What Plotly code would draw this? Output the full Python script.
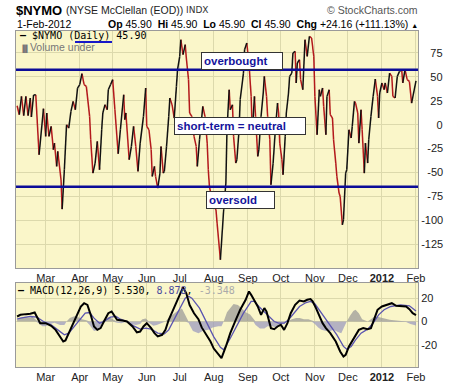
import plotly.graph_objects as go

# ---------------- data ----------------
nymo_dates = [
    "2011-02-03", "2011-02-05", "2011-02-07", "2011-02-09", "2011-02-11", "2011-02-13", "2011-02-15",
    "2011-02-16", "2011-02-18", "2011-02-20", "2011-02-23", "2011-02-27", "2011-03-01", "2011-03-02",
    "2011-03-04", "2011-03-06", "2011-03-08", "2011-03-09", "2011-03-11", "2011-03-12", "2011-03-15",
    "2011-03-16", "2011-03-18", "2011-03-20", "2011-03-22", "2011-03-24", "2011-03-26", "2011-03-28",
    "2011-03-30", "2011-04-01", "2011-04-03", "2011-04-05", "2011-04-07", "2011-04-10", "2011-04-11",
    "2011-04-13", "2011-04-15", "2011-04-17", "2011-04-19", "2011-04-21", "2011-04-22", "2011-04-24",
    "2011-04-26", "2011-04-27", "2011-04-29", "2011-05-01", "2011-05-03", "2011-05-06", "2011-05-08",
    "2011-05-11", "2011-05-12", "2011-05-13", "2011-05-16", "2011-05-18", "2011-05-20", "2011-05-22",
    "2011-05-24", "2011-05-26", "2011-05-29", "2011-05-31", "2011-06-01", "2011-06-03", "2011-06-05",
    "2011-06-06", "2011-06-08", "2011-06-09", "2011-06-11", "2011-06-13", "2011-06-14", "2011-06-16",
    "2011-06-17", "2011-06-19", "2011-06-21", "2011-06-22", "2011-06-24", "2011-06-26", "2011-06-28",
    "2011-06-29", "2011-07-01", "2011-07-02", "2011-07-04", "2011-07-06", "2011-07-07", "2011-07-09",
    "2011-07-10", "2011-07-12", "2011-07-14", "2011-07-16", "2011-07-17", "2011-07-19", "2011-07-22",
    "2011-07-24", "2011-07-26", "2011-07-27", "2011-07-28", "2011-07-31", "2011-08-03", "2011-08-04",
    "2011-08-07", "2011-08-10", "2011-08-12", "2011-08-13", "2011-08-15", "2011-08-16", "2011-08-18",
    "2011-08-19", "2011-08-21", "2011-08-22", "2011-08-24", "2011-08-25", "2011-08-28", "2011-08-29",
    "2011-08-31", "2011-09-02", "2011-09-04", "2011-09-05", "2011-09-07", "2011-09-08", "2011-09-10",
    "2011-09-11", "2011-09-13", "2011-09-15", "2011-09-16", "2011-09-18", "2011-09-19", "2011-09-21",
    "2011-09-22", "2011-09-24", "2011-09-26", "2011-09-28", "2011-09-29", "2011-09-30", "2011-10-02",
    "2011-10-03", "2011-10-05", "2011-10-06", "2011-10-08", "2011-10-09", "2011-10-11", "2011-10-12",
    "2011-10-14", "2011-10-15", "2011-10-16", "2011-10-18", "2011-10-19", "2011-10-21", "2011-10-23",
    "2011-10-25", "2011-10-27", "2011-10-29", "2011-10-31", "2011-11-01", "2011-11-03", "2011-11-05",
    "2011-11-06", "2011-11-08", "2011-11-09", "2011-11-11", "2011-11-12", "2011-11-14", "2011-11-15",
    "2011-11-17", "2011-11-18", "2011-11-20", "2011-11-21", "2011-11-23", "2011-11-24", "2011-11-26",
    "2011-11-27", "2011-11-29", "2011-11-30", "2011-12-02", "2011-12-04", "2011-12-05", "2011-12-07",
    "2011-12-08", "2011-12-10", "2011-12-11", "2011-12-13", "2011-12-14", "2011-12-16", "2011-12-17",
    "2011-12-19", "2011-12-20", "2011-12-22", "2011-12-24", "2011-12-26", "2011-12-28", "2011-12-29",
    "2011-12-30", "2012-01-01", "2012-01-03", "2012-01-04", "2012-01-06", "2012-01-08", "2012-01-10",
    "2012-01-11", "2012-01-13", "2012-01-15", "2012-01-17", "2012-01-19", "2012-01-20", "2012-01-22",
    "2012-01-24", "2012-01-26", "2012-01-28", "2012-02-01",
]
nymo_values = [
    19.8, 10.4, 29.6, 9.4, 29.6, 9.4, 27.9,
    8.0, 31.0, 31.3, -31.5, 16.7, -12.3, 12.2,
    -12.3, -1.8, -26.2, -19.3, -43.7, -28.0, -57.7,
    -88.4, -47.2, -0.1, -3.6, 13.9, 24.4, 15.6,
    38.3, 41.8, 53.3, 41.8, 40.1, 8.7, -15.8,
    -50.7, -40.2, -17.5, -47.2, -5.3, 12.2, 20.9,
    15.6, 36.6, 41.8, 47.1, 15.6, -30.4, -5.3,
    31.3, 5.2, 12.2, -36.7, -22.8, -1.8, -22.8,
    -48.9, -19.3, 8.7, 38.3, -1.8, -5.3, -26.2,
    -54.2, -43.7, -54.2, -66.4, -50.7, -22.8, -50.7,
    -48.9, -22.8, 8.7, 27.9, 20.9, 6.9, 40.1,
    57.5, 71.5, 88.9, 73.2, 83.7, 69.7, 47.1,
    12.2, 8.7, -12.3, -22.8, -43.7, -15.8, 19.1,
    8.7, -19.3, -47.2, -64.6, -82.1, -89.1, -103.0,
    -141.4, -89.1, -61.1, -5.3, 36.6, 15.6, 20.9,
    -12.3, -40.2, -36.7, -5.3, 26.1, 54.0, 78.5,
    85.4, 64.5, 29.6, -8.8, 29.6, 8.7, -33.2,
    -26.2, 8.7, 33.1, 50.5, 29.6, 8.7, -15.8,
    -62.9, -40.2, -5.3, 22.6, 12.2, -19.3, -36.7,
    -52.4, -12.3, 12.2, 33.1, 50.5, 54.0, 75.0,
    76.7, 43.6, 64.5, 68.0, 47.1, 36.6, 88.9,
    71.5, 92.4, 90.7, 71.5, 29.6, -10.5, 36.6,
    29.6, 38.3, 19.1, -10.5, 29.6, 36.6, 10.4,
    6.9, -15.8, -40.2, -54.2, -71.6, -75.1, -104.8,
    -99.5, -50.7, -47.2, -5.3, -14.0, -1.8, 24.4,
    22.6, 12.2, -19.3, 15.6, -5.3, -50.7, -19.3,
    -40.2, -15.8, 8.7, 29.6, 47.8, 29.6, 6.9,
    33.1, 43.6, 36.6, 43.6, 33.1, 54.0, 50.5,
    29.6, 27.9, 50.5, 55.8, 57.5, 43.6, 57.5,
    47.1, 45.3, 22.6, 45.9,
]

macd_dates = [
    "2011-02-03", "2011-02-06", "2011-02-11", "2011-02-15", "2011-02-19", "2011-02-21", "2011-02-24",
    "2011-03-01", "2011-03-06", "2011-03-10", "2011-03-14", "2011-03-17", "2011-03-19", "2011-03-22",
    "2011-03-26", "2011-03-30", "2011-04-02", "2011-04-05", "2011-04-08", "2011-04-11", "2011-04-14",
    "2011-04-17", "2011-04-20", "2011-04-23", "2011-04-27", "2011-04-30", "2011-05-02", "2011-05-05",
    "2011-05-10", "2011-05-14", "2011-05-19", "2011-05-23", "2011-05-26", "2011-05-29", "2011-06-01",
    "2011-06-05", "2011-06-08", "2011-06-11", "2011-06-15", "2011-06-18", "2011-06-21", "2011-06-25",
    "2011-06-29", "2011-07-02", "2011-07-04", "2011-07-07", "2011-07-10", "2011-07-14", "2011-07-18",
    "2011-07-21", "2011-07-25", "2011-07-29", "2011-08-01", "2011-08-05", "2011-08-08", "2011-08-12",
    "2011-08-16", "2011-08-21", "2011-08-25", "2011-08-30", "2011-09-02", "2011-09-04", "2011-09-07",
    "2011-09-10", "2011-09-13", "2011-09-16", "2011-09-18", "2011-09-20", "2011-09-22", "2011-09-25",
    "2011-09-28", "2011-10-01", "2011-10-04", "2011-10-07", "2011-10-10", "2011-10-14", "2011-10-18",
    "2011-10-22", "2011-10-25", "2011-10-28", "2011-10-30", "2011-11-02", "2011-11-05", "2011-11-08",
    "2011-11-11", "2011-11-15", "2011-11-20", "2011-11-24", "2011-11-27", "2011-11-29", "2011-12-02",
    "2011-12-07", "2011-12-11", "2011-12-15", "2011-12-19", "2011-12-22", "2011-12-25", "2011-12-28",
    "2012-01-01", "2012-01-06", "2012-01-10", "2012-01-14", "2012-01-18", "2012-01-23", "2012-01-26",
    "2012-01-29", "2012-02-01",
]
macd_values = [
    4.3, 5.7, 6.3, 6.6, 7.7, 4.3, -1.4,
    -1.4, -3.7, -7.1, -13.3, -17.0, -16.1, -9.9,
    -1.4, 7.1, 12.8, 15.6, 14.2, 5.7, -4.2,
    -7.1, -5.6, 0.0, 7.1, 8.5, 5.7, 1.5,
    0.9, 0.0, -4.2, -9.3, -8.5, -4.2, -1.4,
    -5.6, -9.9, -12.7, -11.3, -7.1, 1.5, 10.0,
    18.5, 26.0, 29.0, 24.0, 14.0, 7.0, 2.0,
    -5.0, -11.0, -17.0, -23.0, -28.0, -31.2, -21.2,
    -9.9, 1.5, 10.0, 18.5, 25.6, 22.7, 17.1,
    12.8, 5.7, 11.4, 8.5, 1.5, -5.6, -6.5,
    -4.2, -2.8, -7.1, -1.4, 7.1, 14.2, 17.9,
    17.1, 18.5, 19.1, 17.1, 11.4, 4.3, -1.4,
    -5.6, -9.9, -17.0, -25.5, -29.8, -28.3, -21.2,
    -12.7, -7.1, -5.6, -6.5, -5.6, 2.9, 10.0,
    12.8, 14.2, 15.6, 13.4, 13.4, 12.8, 10.5,
    7.1, 5.53,
]

signal_dates = [
    "2011-02-03", "2011-02-06", "2011-02-15", "2011-02-21", "2011-02-27", "2011-03-06", "2011-03-12",
    "2011-03-18", "2011-03-22", "2011-03-27", "2011-04-02", "2011-04-06", "2011-04-10", "2011-04-14",
    "2011-04-19", "2011-04-23", "2011-04-29", "2011-05-04", "2011-05-08", "2011-05-14", "2011-05-20",
    "2011-05-26", "2011-05-31", "2011-06-05", "2011-06-11", "2011-06-17", "2011-06-21", "2011-06-26",
    "2011-07-02", "2011-07-06", "2011-07-09", "2011-07-12", "2011-07-19", "2011-07-25", "2011-08-01",
    "2011-08-07", "2011-08-10", "2011-08-16", "2011-08-22", "2011-08-28", "2011-09-04", "2011-09-07",
    "2011-09-11", "2011-09-16", "2011-09-20", "2011-09-25", "2011-09-29", "2011-10-04", "2011-10-08",
    "2011-10-13", "2011-10-18", "2011-10-24", "2011-10-28", "2011-11-01", "2011-11-05", "2011-11-09",
    "2011-11-15", "2011-11-21", "2011-11-27", "2011-11-30", "2011-12-04", "2011-12-08", "2011-12-13",
    "2011-12-19", "2011-12-24", "2011-12-29", "2012-01-03", "2012-01-09", "2012-01-18", "2012-01-26",
    "2012-02-01",
]
signal_values = [
    2.0, 2.9, 4.3, 3.7, 0.0, -2.8, -7.1,
    -11.3, -9.9, -4.2, 2.9, 7.1, 7.7, 2.9,
    -1.4, 0.0, 3.7, 4.3, 2.0, 0.0, -3.7,
    -6.5, -5.6, -6.5, -9.9, -10.5, -7.1, 1.5,
    12.8, 19.9, 21.5, 19.9, 11.4, 0.0, -13.0,
    -22.0, -24.0, -14.2, -4.2, 7.1, 17.1, 17.1,
    12.8, 8.5, 4.3, 0.0, -1.4, -1.4, 1.5,
    7.1, 12.8, 16.2, 17.1, 15.1, 10.0, 4.3,
    -2.8, -11.3, -21.2, -23.5, -21.2, -15.6, -9.9,
    -6.5, -1.4, 5.7, 10.0, 12.8, 14.2, 13.4,
    8.878,
]

hist_dates = [
    "2011-02-03", "2011-02-06", "2011-02-10", "2011-02-15", "2011-02-17", "2011-02-20", "2011-02-22",
    "2011-02-26", "2011-03-01", "2011-03-05", "2011-03-09", "2011-03-14", "2011-03-18", "2011-03-20",
    "2011-03-23", "2011-03-27", "2011-03-30", "2011-04-03", "2011-04-07", "2011-04-10", "2011-04-14",
    "2011-04-18", "2011-04-21", "2011-04-25", "2011-04-28", "2011-05-01", "2011-05-05", "2011-05-09",
    "2011-05-14", "2011-05-18", "2011-05-22", "2011-05-26", "2011-05-28", "2011-05-31", "2011-06-03",
    "2011-06-07", "2011-06-10", "2011-06-14", "2011-06-18", "2011-06-22", "2011-06-26", "2011-06-29",
    "2011-07-03", "2011-07-06", "2011-07-09", "2011-07-13", "2011-07-18", "2011-07-22", "2011-07-27",
    "2011-07-31", "2011-08-05", "2011-08-08", "2011-08-10", "2011-08-13", "2011-08-17", "2011-08-19",
    "2011-08-23", "2011-08-27", "2011-08-30", "2011-09-03", "2011-09-06", "2011-09-08", "2011-09-12",
    "2011-09-16", "2011-09-19", "2011-09-23", "2011-09-27", "2011-09-30", "2011-10-04", "2011-10-07",
    "2011-10-11", "2011-10-15", "2011-10-18", "2011-10-22", "2011-10-26", "2011-10-29", "2011-11-01",
    "2011-11-04", "2011-11-07", "2011-11-11", "2011-11-15", "2011-11-18", "2011-11-22", "2011-11-25",
    "2011-11-27", "2011-11-30", "2011-12-03", "2011-12-06", "2011-12-08", "2011-12-11", "2011-12-14",
    "2011-12-17", "2011-12-19", "2011-12-22", "2011-12-25", "2011-12-28", "2012-01-01", "2012-01-05",
    "2012-01-08", "2012-01-12", "2012-01-16", "2012-01-19", "2012-01-23", "2012-01-27", "2012-02-01",
]
hist_values = [
    1.0, 3.0, 4.0, 3.5, 4.0, 2.0, -1.0,
    -4.0, -4.0, -2.0, -1.0, -3.0, -3.0, 0.0,
    3.0, 4.5, 4.0, 2.0, 1.0, -3.0, -8.0,
    -7.0, -2.0, 3.0, 4.0, 2.0, -1.0, -1.5,
    0.0, -2.0, -3.0, -2.0, 2.0, 2.5, -1.0,
    -3.5, -3.0, -1.5, 0.0, 4.0, 7.0, 9.0,
    11.0, 6.0, -1.0, -8.0, -10.0, -8.0, -7.0,
    -5.0, -4.0, -4.0, 0.0, 8.0, 13.0, 15.0,
    14.0, 11.0, 8.0, 6.0, 2.0, -3.0, -6.0,
    -6.0, -4.0, -4.0, -5.0, -3.0, -2.0, 0.0,
    2.0, 3.0, 3.0, 2.0, 2.0, 1.0, -2.0,
    -5.0, -7.0, -8.0, -8.0, -7.0, -9.0, -10.0,
    -6.0, 0.0, 5.0, 9.0, 10.0, 7.0, 2.0,
    1.0, 0.0, 2.0, 4.0, 4.0, 3.0, 2.0,
    1.5, 1.0, 0.5, 0.5, -0.5, -2.0, -3.348,
]

OVERBOUGHT = 57.5
OVERSOLD = -65.0

month_tick_dates = ["2011-03-01", "2011-04-01", "2011-05-01", "2011-06-01", "2011-07-01", "2011-08-01",
                    "2011-09-01", "2011-10-01", "2011-11-01", "2011-12-01", "2012-01-01", "2012-02-01"]
month_tick_labels = ["Mar", "Apr", "May", "Jun", "Jul", "Aug", "Sep", "Oct", "Nov", "Dec",
                     "<b>2012</b>", "Feb"]
nymo_ticks = [75, 50, 25, 0, -25, -50, -75, -100, -125]
macd_ticks = [20, 0, -20]

# ---------------- styling ----------------
W, H = 460, 383
ML, MR, MT, MB = 16, 42, 31, 16
BG = "#faf6c9"
GRID = "#dcd9ac"
FRAME = "#9a9a9a"
NAVY = "#0c0c98"
ANN_BLUE = "#14149c"
X_RANGE = ["2011-02-02", "2012-02-02 20:00"]


def pad_right(labels):
    # right-align tick labels using figure / punctuation spaces
    def w(s):
        return sum(0.6 if c == "-" else 1.0 for c in s)
    mx = max(w(s) for s in labels)
    out = []
    for s in labels:
        d = mx - w(s)
        n = int(d)
        rest = d - n
        out.append("\u2008" * (1 if rest > 0.3 else 0) + "\u2007" * n + s)
    return out


fig = go.Figure()

# histogram (positive and negative parts)
hist_pos = [max(v, 0) for v in hist_values]
hist_neg = [min(v, 0) for v in hist_values]
fig.add_trace(go.Scatter(x=hist_dates, y=hist_pos, mode="lines", line=dict(width=0, color="#9d9d9d"),
                         fill="tozeroy", fillcolor="rgba(150,150,150,0.7)", xaxis="x2", yaxis="y2",
                         hoverinfo="skip", showlegend=False))
fig.add_trace(go.Scatter(x=hist_dates, y=hist_neg, mode="lines", line=dict(width=0, color="#a0a0c4"),
                         fill="tozeroy", fillcolor="rgba(150,150,190,0.7)", xaxis="x2", yaxis="y2",
                         hoverinfo="skip", showlegend=False))
fig.add_trace(go.Scatter(x=signal_dates, y=signal_values, mode="lines",
                         line=dict(color="#5a54b0", width=1.3), xaxis="x2", yaxis="y2",
                         name="Signal", showlegend=False))
fig.add_trace(go.Scatter(x=macd_dates, y=macd_values, mode="lines",
                         line=dict(color="#000000", width=2), xaxis="x2", yaxis="y2",
                         name="MACD", showlegend=False))

# NYMO: black for rising segments, dark red for falling segments
up_x, up_y, dn_x, dn_y = [], [], [], []
for i in range(1, len(nymo_values)):
    if nymo_values[i] >= nymo_values[i - 1]:
        up_x += [nymo_dates[i - 1], nymo_dates[i], None]
        up_y += [nymo_values[i - 1], nymo_values[i], None]
    else:
        dn_x += [nymo_dates[i - 1], nymo_dates[i], None]
        dn_y += [nymo_values[i - 1], nymo_values[i], None]
fig.add_trace(go.Scatter(x=dn_x, y=dn_y, mode="lines", line=dict(color="#b3191c", width=1.5),
                         xaxis="x", yaxis="y", showlegend=False, connectgaps=False))
fig.add_trace(go.Scatter(x=up_x, y=up_y, mode="lines", line=dict(color="#111111", width=1.5),
                         xaxis="x", yaxis="y", showlegend=False, connectgaps=False))

# overbought / oversold levels
for lvl in (OVERBOUGHT, OVERSOLD):
    fig.add_shape(type="line", xref="x domain", yref="y", x0=0, x1=1, y0=lvl, y1=lvl,
                  line=dict(color=NAVY, width=2.5), layer="above")

plot_h = H - MT - MB
main_bottom = (H - MB - 268) / plot_h
macd_top = (H - MB - 283) / plot_h

axis_common = dict(showline=True, mirror=True, linecolor=FRAME, linewidth=1, gridcolor=GRID,
                   gridwidth=1, zeroline=False, ticks="", automargin=False,
                   tickfont=dict(family="Arial", size=11, color="#222"))

fig.update_layout(
    width=W, height=H, margin=dict(l=ML, r=MR, t=MT, b=MB, pad=0, autoexpand=False),
    paper_bgcolor="white", plot_bgcolor=BG, showlegend=False,
    font=dict(family="Arial"),
    xaxis=dict(domain=[0, 1], anchor="y", type="date", range=X_RANGE, tickvals=month_tick_dates,
               ticktext=month_tick_labels, **axis_common),
    yaxis=dict(domain=[main_bottom, 1], anchor="x", side="right", range=[-150, 98],
               tickvals=nymo_ticks, ticktext=pad_right([str(t) for t in nymo_ticks]), **axis_common),
    xaxis2=dict(domain=[0, 1], anchor="y2", type="date", range=X_RANGE, matches="x",
                tickvals=month_tick_dates, ticktext=month_tick_labels, **axis_common),
    yaxis2=dict(domain=[0, macd_top], anchor="x2", side="right", range=[-38.7, 32.8],
                tickvals=macd_ticks, ticktext=[str(t) for t in macd_ticks], **axis_common),
)


def px_x(px):
    return (px - ML) / (W - ML - MR)


def px_y(py):
    return (H - MB - py) / plot_h


ann = []
# header
ann.append(dict(x=px_x(14), y=px_y(10), xref="paper", yref="paper", xanchor="left", yanchor="middle",
                text="<b>$NYMO</b>", font=dict(family="Arial", size=13, color="#000"), showarrow=False))
ann.append(dict(x=px_x(64), y=px_y(10), xref="paper", yref="paper", xanchor="left", yanchor="middle",
                text="(NYSE McClellan (EOD))", font=dict(family="Arial", size=10.5, color="#222"),
                showarrow=False))
ann.append(dict(x=px_x(184), y=px_y(10), xref="paper", yref="paper", xanchor="left", yanchor="middle",
                text="INDX", font=dict(family="DejaVu Sans", size=9, color="#333"), showarrow=False))
ann.append(dict(x=px_x(420), y=px_y(10), xref="paper", yref="paper", xanchor="right", yanchor="middle",
                text="\u00a9 StockCharts.com", font=dict(family="Arial", size=10.5, color="#555"),
                showarrow=False))
ann.append(dict(x=px_x(15), y=px_y(24), xref="paper", yref="paper", xanchor="left", yanchor="middle",
                text="1-Feb-2012", font=dict(family="Arial", size=10.5, color="#000"), showarrow=False))
ann.append(dict(x=px_x(420), y=px_y(24), xref="paper", yref="paper", xanchor="right", yanchor="middle",
                text=("<b>Op</b> 45.90  <b>Hi</b> 45.90  <b>Lo</b> 45.90  <b>Cl</b> 45.90  "
                      "<b>Chg</b> +24.16 (+111.13%) <span style='font-size:7px'>\u25b2</span>"),
                font=dict(family="Arial", size=10.5, color="#000"), showarrow=False))
# panel legends
ann.append(dict(x=px_x(18), y=px_y(36), xref="paper", yref="paper", xanchor="left", yanchor="middle",
                text="<b>\u2014</b> $NYMO (Daily) 45.90",
                font=dict(family="DejaVu Sans Mono", size=10, color="#000"), showarrow=False))
ann.append(dict(x=px_x(18), y=px_y(47), xref="paper", yref="paper", xanchor="left", yanchor="middle",
                text="<span style='font-size:7px'>\u2590\u258c</span>Volume under",
                font=dict(family="Arial", size=10.5, color="#777"), showarrow=False))
ann.append(dict(x=px_x(16), y=px_y(290), xref="paper", yref="paper", xanchor="left", yanchor="middle",
                text=("<b>\u2014</b> MACD(12,26,9) 5.530, <span style='color:#4a4aa0'>8.878</span>, "
                      "<span style='color:#aaaaaa'>-3.348</span>"),
                font=dict(family="DejaVu Sans Mono", size=10, color="#000"), showarrow=False))
# boxed notes
for text, left_px, center_py, box_w in (("overbought", 200.7, 61, 82),
                                         ("short-term = neutral", 174, 125.5, 132),
                                         ("oversold", 205.7, 199.5, 69)):
    ann.append(dict(x=px_x(left_px), y=px_y(center_py), xref="paper", yref="paper", xanchor="left",
                    yanchor="middle", text="<b>" + text + "</b>", align="left", width=box_w - 6,
                    height=12, font=dict(family="Arial", size=11.5, color=ANN_BLUE), bgcolor="white",
                    bordercolor="#333", borderwidth=1, borderpad=2, showarrow=False))
fig.update_layout(annotations=ann)

# blue underline under "(Daily)"
fig.add_shape(type="line", xref="paper", yref="paper", x0=px_x(75), x1=px_x(112), y0=px_y(42),
              y1=px_y(42), line=dict(color="#1818c8", width=2))

fig.write_html("out.html", config={"displayModeBar": False},
               post_script="document.body.style.margin='0px';document.body.style.overflow='hidden';")
